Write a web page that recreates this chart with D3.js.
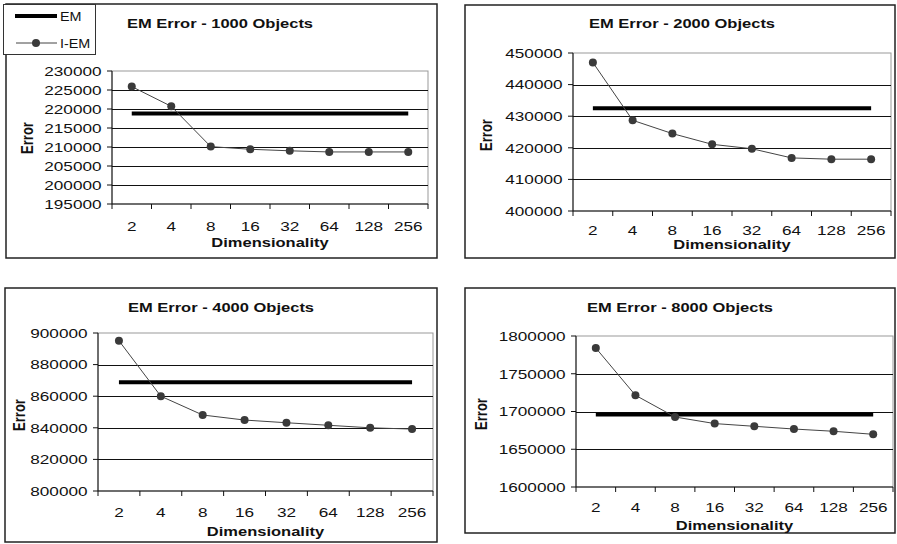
<!DOCTYPE html>
<html>
<head>
<meta charset="utf-8">
<script src="https://cdn.jsdelivr.net/npm/d3@7"></script>
<style>
  body { margin: 0; background: #fff; }
  svg { display: block; font-family: "Liberation Sans", Arial, sans-serif; }
</style>
</head>
<body>
<div id="chart"></div>
<script>
// data
var dims = ["2", "4", "8", "16", "32", "64", "128", "256"];
var titles = ["EM Error - 1000 Objects", "EM Error - 2000 Objects", "EM Error - 4000 Objects", "EM Error - 8000 Objects"];

var iem1000 = [225900, 220700, 210100, 209400, 209000, 208700, 208700, 208700];
var em1000 = 218800;
var ticks1000 = [195000, 200000, 205000, 210000, 215000, 220000, 225000, 230000];

var iem2000 = [447000, 428700, 424500, 421100, 419700, 416800, 416400, 416400];
var em2000 = 432500;
var ticks2000 = [400000, 410000, 420000, 430000, 440000, 450000];

var iem4000 = [895100, 860000, 848100, 844900, 843200, 841600, 840000, 839200];
var em4000 = 868900;
var ticks4000 = [800000, 820000, 840000, 860000, 880000, 900000];

var iem8000 = [1784100, 1721500, 1692700, 1684000, 1680400, 1676800, 1673800, 1669800];
var em8000 = 1695900;
var ticks8000 = [1600000, 1650000, 1700000, 1750000, 1800000];

// the picture is a bit stretched sideways, so text gets stretched too
var SX = 1.27;

var svg = d3.select("#chart").append("svg")
    .attr("width", 897)
    .attr("height", 544);

function label(g, x, y, s, size, bold, anchor, rot) {
    return g.append("text")
        .attr("transform", "translate(" + x + "," + y + ") scale(" + SX + ",1)" + (rot ? " rotate(-90)" : ""))
        .attr("font-size", size)
        .attr("font-weight", bold ? "bold" : "normal")
        .attr("text-anchor", anchor)
        .attr("fill", "#111")
        .text(s);
}

function panel(p, title, iem, em, ticks) {
    var g = svg.append("g");

    // outer frame
    g.append("rect")
        .attr("x", p.box[0]).attr("y", p.box[1])
        .attr("width", p.box[2] - p.box[0]).attr("height", p.box[3] - p.box[1])
        .attr("fill", "none").attr("stroke", "#222").attr("stroke-width", 1.5);

    var x = d3.scaleBand().domain(dims).range([p.left, p.right]);
    var y = d3.scaleLinear().domain([ticks[0], ticks[ticks.length - 1]]).range([p.bottom, p.top]);
    var cx = d => x(d) + x.bandwidth() / 2;

    // plot area border (grey, top and right)
    g.append("rect")
        .attr("x", p.left).attr("y", p.top)
        .attr("width", p.right - p.left).attr("height", p.bottom - p.top)
        .attr("fill", "none").attr("stroke", "#999").attr("stroke-width", 1);

    // gridlines
    g.selectAll(".grid").data(ticks.slice(1, -1)).join("line")
        .attr("x1", p.left).attr("x2", p.right)
        .attr("y1", d => Math.round(y(d)) + 0.5).attr("y2", d => Math.round(y(d)) + 0.5)
        .attr("stroke", "#111").attr("stroke-width", 1);

    // axes
    g.append("line").attr("x1", p.left).attr("x2", p.left).attr("y1", p.top).attr("y2", p.bottom)
        .attr("stroke", "#111");
    g.append("line").attr("x1", p.left).attr("x2", p.right).attr("y1", p.bottom).attr("y2", p.bottom)
        .attr("stroke", "#111");

    g.selectAll(".ytick").data(ticks).join("line")
        .attr("x1", p.left - 5).attr("x2", p.left)
        .attr("y1", d => y(d)).attr("y2", d => y(d))
        .attr("stroke", "#111");
    var edges = dims.map(d => x(d)).concat([p.right]);
    g.selectAll(".xtick").data(edges).join("line")
        .attr("x1", d => d).attr("x2", d => d)
        .attr("y1", p.bottom).attr("y2", p.bottom + 5)
        .attr("stroke", "#111");

    ticks.forEach(t => label(g, p.left - 10.5, y(t) + 4.8, t, 13.5, false, "end"));
    dims.forEach(d => label(g, cx(d), p.tickY, d, 13.5, false, "middle"));

    label(g, p.titleX, p.titleY, title, 13, true, "middle");
    label(g, (p.left + p.right) / 2, p.dimY, "Dimensionality", 13, true, "middle");
    label(g, p.errX, p.errY, "Error", 13, true, "middle", true);

    // EM baseline
    g.append("line")
        .attr("x1", cx(dims[0])).attr("x2", cx(dims[dims.length - 1]))
        .attr("y1", y(em)).attr("y2", y(em))
        .attr("stroke", "#000").attr("stroke-width", 4);

    // I-EM series
    var line = d3.line().x((d, i) => cx(dims[i])).y(d => y(d));
    g.append("path").datum(iem)
        .attr("d", line)
        .attr("fill", "none").attr("stroke", "#444").attr("stroke-width", 1);
    g.selectAll(".pt").data(iem).join("circle")
        .attr("cx", (d, i) => cx(dims[i])).attr("cy", d => y(d))
        .attr("r", 4).attr("fill", "#3a3a3a");
}

var layouts = [
    {box: [6, 4, 437, 258], left: 112, right: 428, top: 71, bottom: 204, tickY: 231, dimY: 247, titleX: 220, titleY: 28, errX: 33, errY: 138},
    {box: [465, 5, 895, 258], left: 573, right: 891, top: 53, bottom: 211, tickY: 235, dimY: 249, titleX: 682, titleY: 28, errX: 492, errY: 135},
    {box: [5, 288, 437, 542], left: 98, right: 433, top: 333, bottom: 491, tickY: 517, dimY: 536, titleX: 221, titleY: 312, errX: 25, errY: 415},
    {box: [465, 288, 895, 533], left: 576, right: 893, top: 336, bottom: 487, tickY: 512, dimY: 530, titleX: 680, titleY: 312, errX: 487, errY: 414}
];

panel(layouts[0], titles[0], iem1000, em1000, ticks1000);
panel(layouts[1], titles[1], iem2000, em2000, ticks2000);
panel(layouts[2], titles[2], iem4000, em4000, ticks4000);
panel(layouts[3], titles[3], iem8000, em8000, ticks8000);

// legend in the first panel's corner
var lg = svg.append("g");
lg.append("rect").attr("x", 3.5).attr("y", 4.5).attr("width", 92).attr("height", 50)
    .attr("fill", "#fff").attr("stroke", "#333").attr("stroke-width", 1);
lg.append("line").attr("x1", 15).attr("x2", 57).attr("y1", 16).attr("y2", 16)
    .attr("stroke", "#000").attr("stroke-width", 4);
lg.append("line").attr("x1", 16).attr("x2", 57).attr("y1", 43).attr("y2", 43)
    .attr("stroke", "#444").attr("stroke-width", 1);
lg.append("circle").attr("cx", 36).attr("cy", 43).attr("r", 4).attr("fill", "#3a3a3a");
lg.append("text").attr("x", 60).attr("y", 21.5).attr("font-size", 12.5).attr("fill", "#111")
    .attr("transform", "translate(60,0) scale(1.15,1) translate(-60,0)").text("EM");
lg.append("text").attr("x", 60).attr("y", 48.5).attr("font-size", 12.5).attr("fill", "#111")
    .attr("transform", "translate(60,0) scale(1.15,1) translate(-60,0)").text("I-EM");
</script>
</body>
</html>
